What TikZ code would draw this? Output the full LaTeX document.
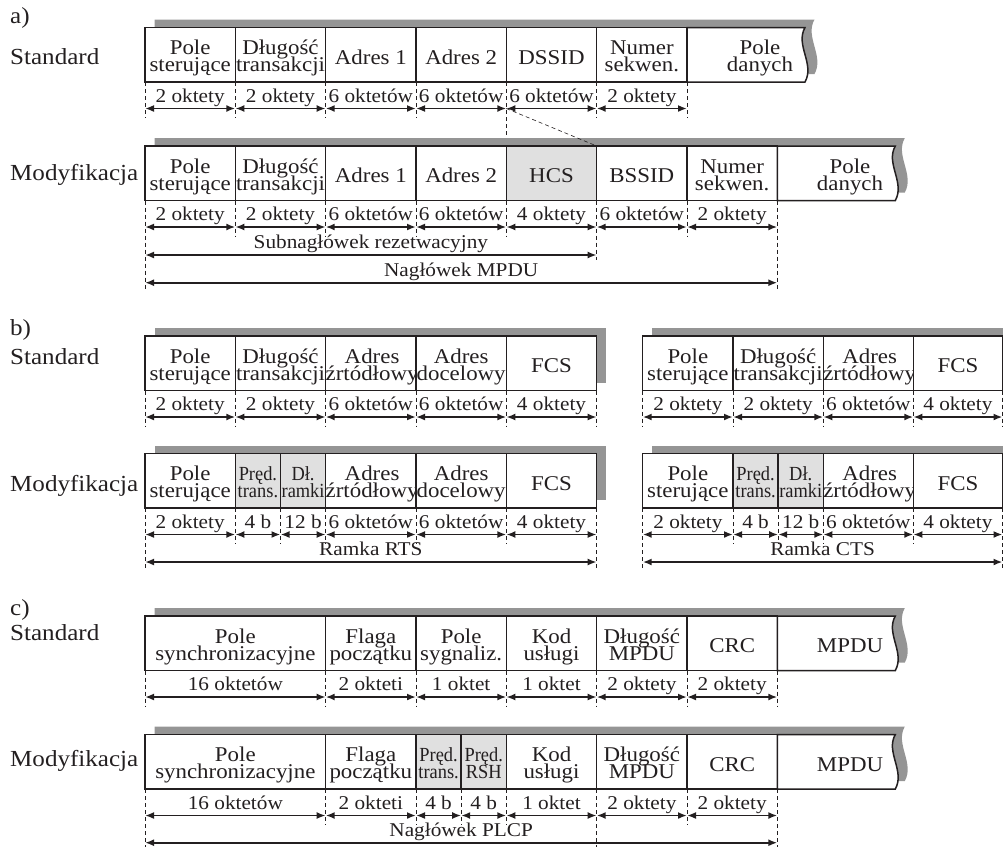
\documentclass[tikz,border=0pt]{standalone}
\usepackage{fontspec}
\setmainfont[FakeStretch=1.09]{Liberation Serif}
\newfontfamily\narrowf[FakeStretch=0.92]{Liberation Serif}
\usetikzlibrary{arrows.meta}
\definecolor{ink}{HTML}{231F20}
\definecolor{shadowgray}{HTML}{959595}
\definecolor{cellgray}{HTML}{E0E0E0}
\newcommand\one[1]{\rule[-4.5pt]{0pt}{27.5pt}#1}
\newcommand\two[2]{\rule{0pt}{22pt}#1\\#2\rule[-5pt]{0pt}{5pt}}
\newcommand\cellnode[5][cellbox]{\node[#1, minimum width=#4pt] (#2) at (#3) {#5};}
\newcommand\dimrow[3]{%
  \foreach \xa/\xb/\lab [count=\i] in {#3} {
    \coordinate (#1-\i-l) at (\xa,#2);
    \coordinate (#1-\i-r) at (\xb,#2);
    \draw[dimarrow] (#1-\i-l) -- (#1-\i-r) node[dimlbl] (#1-\i-t) {\lab};
  }}
\newcommand\guides[3]{%
  \foreach \x/\ye [count=\i] in {#3} {
    \coordinate (#1-\i-top) at (\x,#2);
    \coordinate (#1-\i-bot) at (\x,\ye);
    \draw[guide] (#1-\i-top) -- (#1-\i-bot);
  }}
\tikzset{
  cellbox/.style={draw=ink, line width=1.5pt, fill=white, inner sep=0pt, outer sep=0pt,
    minimum height=54.5pt, anchor=north west, align=center, text=ink,
    font=\fontsize{21}{17}\selectfont},
  graycell/.style={cellbox, fill=cellgray},
  narrowcell/.style={graycell, font=\narrowf\fontsize{20}{17}\selectfont},
  celltxt/.style={inner sep=0pt, align=center, text=ink,
    font=\fontsize{21}{17}\selectfont},
  wavy/.style={draw=ink, line width=1.5pt, fill=white},
  dimarrow/.style={draw=ink, line width=1.8pt, {Latex[length=9pt,width=7pt]}-{Latex[length=9pt,width=7pt]}},
  dimlbl/.style={midway, anchor=base, yshift=6.5pt, inner sep=0pt, text=ink, font=\fontsize{19.5}{19.5}\selectfont},
  guide/.style={draw=ink, line width=0.8pt, dash pattern=on 4pt off 3pt},
  rowlbl/.style={anchor=base west, inner sep=0pt, text=ink, font=\fontsize{23}{23}\selectfont},
}
\begin{document}
\lineskiplimit=-50pt
\begin{tikzpicture}[x=1pt,y=-1pt]
\useasboundingbox (0,0) rectangle (1003,847);

% ---------- labels
\node[rowlbl] (la) at (10,23.5) {a)};
\node[rowlbl] (lsa) at (10,64) {Standard};
\node[rowlbl] (lma) at (10,180.5) {Modyfikacja};
\node[rowlbl] (lb) at (10,335) {b)};
\node[rowlbl] (lsb) at (10,364) {Standard};
\node[rowlbl] (lmb) at (10,491) {Modyfikacja};
\node[rowlbl] (lc) at (10,615) {c)};
\node[rowlbl] (lsc) at (10,640.5) {Standard};
\node[rowlbl] (lmc) at (10,766) {Modyfikacja};

% ================= a) Standard
\fill[shadowgray] (154.5,19.5) -- (814.5,19.5) .. controls +(-10,17.5) and +(10,-18) .. (814.5,74) -- (154.5,74) -- cycle;
\cellnode{as1}{145,27.5}{90.33}{\two{Pole}{sterujące}}
\cellnode{as2}{235.33,27.5}{90.33}{\two{Długość}{transakcji}}
\cellnode{as3}{325.67,27.5}{90.33}{\one{Adres 1}}
\cellnode{as4}{416,27.5}{90.33}{\one{Adres 2}}
\cellnode{as5}{506.33,27.5}{90.33}{\one{DSSID}}
\cellnode{as6}{596.67,27.5}{90.33}{\two{Numer}{sekwen.}}
\draw[wavy] (687,27.5) -- (805,27.5) .. controls +(-10,17.5) and +(10,-18) .. (805,82) -- (687,82) -- cycle;
\node[celltxt] (as7) at (760,54.75) {\two{Pole}{danych}};
\guides{gas}{82}{145/118, 235.33/118, 325.67/118, 416/118, 506.33/137, 596.67/118, 687/118}
\dimrow{das}{108.5}{145/235.33/2 oktety, 235.33/325.67/2 oktety, 325.67/416/6 oktetów, 416/506.33/6 oktetów, 506.33/596.67/6 oktetów, 596.67/687/2 oktety}

% ================= a) Modyfikacja
\fill[shadowgray] (154.5,138) -- (904.8,138) .. controls +(-10,17.5) and +(10,-18) .. (904.8,192.5) -- (154.5,192.5) -- cycle;
\cellnode{am1}{145,146}{90.33}{\two{Pole}{sterujące}}
\cellnode{am2}{235.33,146}{90.33}{\two{Długość}{transakcji}}
\cellnode{am3}{325.67,146}{90.33}{\one{Adres 1}}
\cellnode{am4}{416,146}{90.33}{\one{Adres 2}}
\cellnode[graycell]{am5}{506.33,146}{90.33}{\one{HCS}}
\cellnode{am6}{596.67,146}{90.33}{\one{BSSID}}
\cellnode{am7}{687,146}{90.33}{\two{Numer}{sekwen.}}
\draw[wavy] (777.33,146) -- (895.3,146) .. controls +(-10,17.5) and +(10,-18) .. (895.3,200.5) -- (777.33,200.5) -- cycle;
\node[celltxt] (am8) at (850,173.25) {\two{Pole}{danych}};
\guides{gam}{200.5}{145/290, 235.33/236.5, 325.67/236.5, 416/236.5, 506.33/236.5, 596.67/260, 687/236.5, 777.33/290}
\dimrow{dam}{227}{145/235.33/2 oktety, 235.33/325.67/2 oktety, 325.67/416/6 oktetów, 416/506.33/6 oktetów, 506.33/596.67/4 oktety, 596.67/687/6 oktetów, 687/777.33/2 oktety}
\dimrow{lam}{255}{145/596.67/Subnagłówek rezetwacyjny}
\dimrow{lam2}{282.7}{145/777.33/Nagłówek MPDU}
\draw[guide, line width=0.6pt] (das-5-l) -- (am6.north west);

% ================= b) Standard RTS
\fill[shadowgray] (154.5,328) rectangle (606.2,382.5);
\cellnode{bs1}{145,336}{90.33}{\two{Pole}{sterujące}}
\cellnode{bs2}{235.33,336}{90.33}{\two{Długość}{transakcji}}
\cellnode{bs3}{325.67,336}{90.33}{\two{Adres}{źrtódłowy}}
\cellnode{bs4}{416,336}{90.33}{\two{Adres}{docelowy}}
\cellnode{bs5}{506.33,336}{90.33}{\one{FCS}}
\guides{gbs}{390.5}{145/426.5, 235.33/426.5, 325.67/426.5, 416/426.5, 506.33/426.5, 596.67/426.5}
\dimrow{dbs}{417}{145/235.33/2 oktety, 235.33/325.67/2 oktety, 325.67/416/6 oktetów, 416/506.33/6 oktetów, 506.33/596.67/4 oktety}

% ================= b) Standard CTS
\fill[shadowgray] (652.2,328) rectangle (1012,382.5);
\cellnode{bc1}{642.7,336}{90.3}{\two{Pole}{sterujące}}
\cellnode{bc2}{733,336}{90.3}{\two{Długość}{transakcji}}
\cellnode{bc3}{823.3,336}{90}{\two{Adres}{źrtódłowy}}
\cellnode{bc4}{913.3,336}{89.2}{\one{FCS}}
\guides{gbc}{390.5}{642.7/426.5, 733/426.5, 823.3/426.5, 913.3/426.5, 1002.5/426.5}
\dimrow{dbc}{417}{642.7/733/2 oktety, 733/823.3/2 oktety, 823.3/913.3/6 oktetów, 913.3/1002.5/4 oktety}

% ================= b) Modyfikacja RTS
\fill[shadowgray] (154.5,445.5) rectangle (606.2,500);
\cellnode{bm1}{145,453.5}{90.33}{\two{Pole}{sterujące}}
\cellnode[narrowcell]{bm2}{235.33,453.5}{45.17}{\two{Pręd.}{trans.}}
\cellnode[narrowcell]{bm3}{280.5,453.5}{45.17}{\two{Dł.}{ramki}}
\cellnode{bm4}{325.67,453.5}{90.33}{\two{Adres}{źrtódłowy}}
\cellnode{bm5}{416,453.5}{90.33}{\two{Adres}{docelowy}}
\cellnode{bm6}{506.33,453.5}{90.33}{\one{FCS}}
\guides{gbm}{508}{145/568, 235.33/544, 280.5/544, 325.67/544, 416/544, 506.33/544, 596.67/568}
\dimrow{dbm}{534.5}{145/235.33/2 oktety, 235.33/280.5/4 b, 280.5/325.67/12 b, 325.67/416/6 oktetów, 416/506.33/6 oktetów, 506.33/596.67/4 oktety}
\dimrow{lbm}{562}{145/596.67/Ramka RTS}

% ================= b) Modyfikacja CTS
\fill[shadowgray] (652.2,445.5) rectangle (1012,500);
\cellnode{bn1}{642.7,453.5}{90.3}{\two{Pole}{sterujące}}
\cellnode[narrowcell]{bn2}{733,453.5}{45.15}{\two{Pręd.}{trans.}}
\cellnode[narrowcell]{bn3}{778.15,453.5}{45.15}{\two{Dł.}{ramki}}
\cellnode{bn4}{823.3,453.5}{90}{\two{Adres}{źrtódłowy}}
\cellnode{bn5}{913.3,453.5}{89.2}{\one{FCS}}
\guides{gbn}{508}{642.7/568, 733/544, 778.15/544, 823.3/544, 913.3/544, 1002.5/568}
\dimrow{dbn}{534.5}{642.7/733/2 oktety, 733/778.15/4 b, 778.15/823.3/12 b, 823.3/913.3/6 oktetów, 913.3/1002.5/4 oktety}
\dimrow{lbn}{562}{642.7/1002.5/Ramka CTS}

% ================= c) Standard
\fill[shadowgray] (154.5,608) -- (904.8,608) .. controls +(-10,17.5) and +(10,-18) .. (904.8,662.5) -- (154.5,662.5) -- cycle;
\cellnode{cs1}{145,616}{180.67}{\two{Pole}{synchronizacyjne}}
\cellnode{cs2}{325.67,616}{90.33}{\two{Flaga}{początku}}
\cellnode{cs3}{416,616}{90.33}{\two{Pole}{sygnaliz.}}
\cellnode{cs4}{506.33,616}{90.33}{\two{Kod}{usługi}}
\cellnode{cs5}{596.67,616}{90.33}{\two{Długość}{MPDU}}
\cellnode{cs6}{687,616}{90.33}{\one{CRC}}
\draw[wavy] (777.33,616) -- (895.3,616) .. controls +(-10,17.5) and +(10,-18) .. (895.3,670.5) -- (777.33,670.5) -- cycle;
\node[celltxt] (cs7) at (850,643.25) {\one{MPDU}};
\guides{gcs}{670.5}{145/706.5, 325.67/706.5, 416/706.5, 506.33/706.5, 596.67/706.5, 687/706.5, 777.33/706.5}
\dimrow{dcs}{697}{145/325.67/16 oktetów, 325.67/416/2 okteti, 416/506.33/1 oktet, 506.33/596.67/1 oktet, 596.67/687/2 oktety, 687/777.33/2 oktety}

% ================= c) Modyfikacja
\fill[shadowgray] (154.5,726.5) -- (904.8,726.5) .. controls +(-10,17.5) and +(10,-18) .. (904.8,781) -- (154.5,781) -- cycle;
\cellnode{cm1}{145,734.5}{180.67}{\two{Pole}{synchronizacyjne}}
\cellnode{cm2}{325.67,734.5}{90.33}{\two{Flaga}{początku}}
\cellnode[narrowcell]{cm3}{416,734.5}{45.17}{\two{Pręd.}{trans.}}
\cellnode[narrowcell]{cm4}{461.17,734.5}{45.16}{\two{Pręd.}{RSH}}
\cellnode{cm5}{506.33,734.5}{90.33}{\two{Kod}{usługi}}
\cellnode{cm6}{596.67,734.5}{90.33}{\two{Długość}{MPDU}}
\cellnode{cm7}{687,734.5}{90.33}{\one{CRC}}
\draw[wavy] (777.33,734.5) -- (895.3,734.5) .. controls +(-10,17.5) and +(10,-18) .. (895.3,789) -- (777.33,789) -- cycle;
\node[celltxt] (cm8) at (850,761.75) {\one{MPDU}};
\guides{gcm}{789}{145/847, 325.67/825, 416/825, 461.17/825, 506.33/825, 596.67/847, 687/825, 777.33/847}
\dimrow{dcm}{815.5}{145/325.67/16 oktetów, 325.67/416/2 okteti, 416/461.17/4 b, 461.17/506.33/4 b, 506.33/596.67/1 oktet, 596.67/687/2 oktety, 687/777.33/2 oktety}
\dimrow{lcm}{842.7}{145/777.33/Nagłówek PLCP}
\end{tikzpicture}
\end{document}
